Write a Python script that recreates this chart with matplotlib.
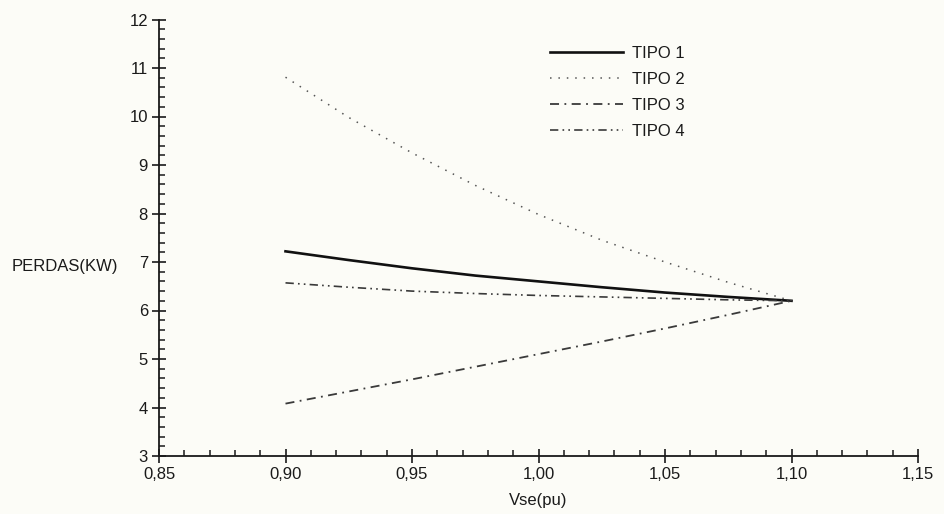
import matplotlib
matplotlib.use("Agg")
import matplotlib.pyplot as plt
from matplotlib.ticker import MultipleLocator, FuncFormatter

plt.rcParams['font.family'] = ['Liberation Sans', 'DejaVu Sans']

vse = [0.90, 0.925, 0.95, 0.975, 1.00, 1.025, 1.05, 1.075, 1.10]
tipo1 = [7.22, 7.04, 6.87, 6.72, 6.60, 6.48, 6.37, 6.28, 6.20]
tipo2 = [10.81, 9.98, 9.25, 8.58, 7.98, 7.45, 7.00, 6.58, 6.20]
tipo3 = [4.08, 4.33, 4.58, 4.84, 5.10, 5.36, 5.63, 5.91, 6.20]
tipo4 = [6.57, 6.48, 6.40, 6.35, 6.31, 6.28, 6.25, 6.22, 6.20]
labels = ["TIPO 1", "TIPO 2", "TIPO 3", "TIPO 4"]
xlabel = "Vse(pu)"
ylabel = "PERDAS(KW)"

bg = '#fcfcf7'
txt = '#1a1a1a'
fig = plt.figure(figsize=(9.44, 5.14), dpi=100, facecolor=bg)
ax = fig.add_axes([159/944, 1-456/514, (918-159)/944, (456-19.5)/514])
ax.set_facecolor(bg)

ax.plot(vse, tipo1, color='#111111', lw=1.9, ls='-', label=labels[0])
ax.plot(vse, tipo2, color='#555555', lw=1.1, ls=(0, (1, 4.5)), label=labels[1])
ax.plot(vse, tipo3, color='#3a3a3a', lw=1.3, ls=(0, (5, 3, 1, 3)), label=labels[2])
ax.plot(vse, tipo4, color='#3a3a3a', lw=1.2, ls=(0, (5, 2.5, 1, 2.5, 1, 2.5)), label=labels[3])

ax.set_xlim(0.85, 1.15)
ax.set_ylim(3, 12)
ax.xaxis.set_major_locator(MultipleLocator(0.05))
ax.xaxis.set_minor_locator(MultipleLocator(0.01))
ax.yaxis.set_major_locator(MultipleLocator(1))
ax.yaxis.set_minor_locator(MultipleLocator(0.2))
ax.xaxis.set_major_formatter(FuncFormatter(lambda v, p: f"{v:.2f}".replace('.', ',')))
ax.yaxis.set_major_formatter(FuncFormatter(lambda v, p: f"{int(round(v))}"))

for s in ['top', 'right']:
    ax.spines[s].set_visible(False)
for s in ['left', 'bottom']:
    ax.spines[s].set_linewidth(1.3)
    ax.spines[s].set_color('#1a1a1a')

ax.tick_params(axis='both', which='major', direction='inout', length=10, width=1.2,
               color='#1a1a1a', labelsize=12, labelcolor=txt)
ax.tick_params(axis='y', which='major', pad=3)
ax.tick_params(axis='x', which='major', pad=3)
ax.tick_params(axis='both', which='minor', direction='in', length=4, width=1.1, color='#1a1a1a')

fig.text(538/944, 1-500/514, xlabel, ha='center', va='center', fontsize=12, color=txt)
fig.text(12/944, 1-267/514, ylabel, ha='left', va='center', fontsize=12, color=txt)

leg = ax.legend(loc='upper left', bbox_to_anchor=(550/944, 1-46/514), bbox_transform=fig.transFigure,
                frameon=False, fontsize=12, handlelength=4.4, handletextpad=0.55,
                labelspacing=0.65, borderaxespad=0, borderpad=0)
for t in leg.get_texts():
    t.set_color(txt)

fig.savefig('out.png', dpi=100, facecolor=bg)
